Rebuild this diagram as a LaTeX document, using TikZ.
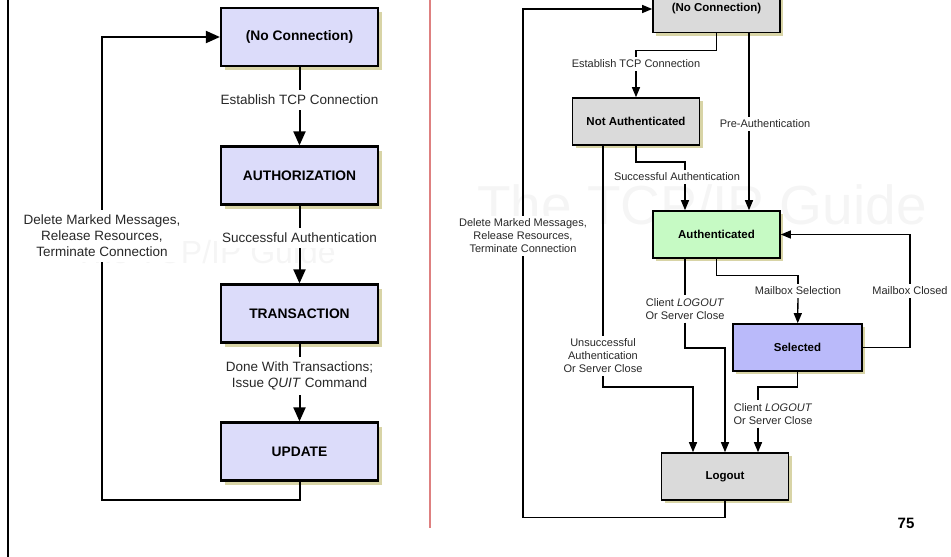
\documentclass[tikz,border=0pt]{standalone}
\usepackage{fontspec}
\setmainfont{Liberation Sans}
\usepackage{tikz}
\usetikzlibrary{
    positioning,
    arrows.meta,
    calc,
    shadows
}
\definecolor{boxLavender}{RGB}{220, 220, 250}
\definecolor{boxGray}{RGB}{218, 218, 218}
\definecolor{boxGreen}{RGB}{198, 250, 196}
\definecolor{boxBlue}{RGB}{186, 186, 250}
\definecolor{shadowOlive}{RGB}{216, 212, 166}
\definecolor{pageRed}{RGB}{222, 128, 128}
\definecolor{markGray}{RGB}{245, 245, 245}
\definecolor{textDark}{RGB}{40, 40, 40}

\begin{document}
\begin{tikzpicture}[x=1pt, y=-1pt,
    stateL/.style={draw, line width=2.2pt, fill=boxLavender, minimum width=157pt, minimum height=58pt,
        font=\fontsize{13.8}{16}\selectfont\bfseries,
        drop shadow={shadow xshift=4pt, shadow yshift=-4pt, fill=shadowOlive, opacity=1}},
    stateR/.style={draw, line width=1.6pt, fill=boxGray, minimum width=127pt, minimum height=47pt,
        font=\fontsize{11.5}{14}\selectfont\bfseries,
        drop shadow={shadow xshift=3pt, shadow yshift=-3pt, fill=shadowOlive, opacity=1}},
    labelL/.style={fill=white, inner xsep=2pt, inner ysep=5pt, align=center, text=textDark,
        font=\fontsize{13.5}{16}\selectfont},
    labelR/.style={fill=white, inner xsep=1pt, inner ysep=3pt, align=center, text=textDark,
        font=\fontsize{11}{13}\selectfont},
    edgeL/.style={line width=2pt, >={Triangle[width=12pt,length=14pt]}},
    edgeR/.style={line width=1.3pt, >={Triangle[width=8pt,length=10pt]}}]
    \useasboundingbox (0,0) rectangle (951,557);

    % watermarks and page frame
    \node[text=markGray, font=\fontsize{32}{32}\selectfont] (markL) at (205,252) {The TCP/IP Guide};
    \node[text=markGray, font=\fontsize{55}{55}\selectfont] (markR) at (702,205) {The TCP/IP Guide};
    \draw[line width=2.5pt] (8,0) -- (8,557);
    \draw[pageRed, line width=1.5pt] (430,0) -- (430,528);

    % left: POP3 states
    \node[stateL] (noconL) at (299.5,37) {(No Connection)};
    \node[stateL] (authL) at (299.5,175.5) {AUTHORIZATION};
    \node[stateL] (transL) at (299.5,313.5) {TRANSACTION};
    \node[stateL] (updL) at (299.5,451.5) {UPDATE};

    \node[labelL] (estL) at (299.5,100) {Establish TCP Connection};
    \node[labelL] (sucL) at (299.5,238) {Successful Authentication};
    \node[labelL] (doneL) at (299.5,376) {Done With Transactions;\\Issue \textit{QUIT} Command};
    \node[labelL] (delL) at (102,236) {Delete Marked Messages,\\Release Resources,\\Terminate Connection};
    \coordinate (turnL) at (102,500);

    \draw[edgeL] (noconL) -- (estL);
    \draw[edgeL, ->] (estL) -- (authL);
    \draw[edgeL] (authL) -- (sucL);
    \draw[edgeL, ->] (sucL) -- (transL);
    \draw[edgeL] (transL) -- (doneL);
    \draw[edgeL, ->] (doneL) -- (updL);
    \draw[edgeL] (updL.south) |- (turnL) -- (delL.south);
    \draw[edgeL, ->] (delL.north) |- (noconL.west);

    % right: IMAP states
    \node[stateR] (noconR) at (716.5,9) {(No Connection)};
    \node[stateR] (notauthR) at (636,121.5) {Not Authenticated};
    \node[stateR, fill=boxGreen] (authR) at (716.5,234.5) {Authenticated};
    \node[stateR, fill=boxBlue, minimum width=129pt] (selR) at (797.5,347.5) {Selected};
    \node[stateR] (logoutR) at (725,476.5) {Logout};

    \node[labelR] (estR) at (636,64) {Establish TCP Connection};
    \node[labelR] (preR) at (765,124) {Pre-Authentication};
    \node[labelR] (sucR) at (677,177) {Successful Authentication};
    \node[labelR] (delR) at (523,236) {Delete Marked Messages,\\Release Resources,\\Terminate Connection};
    \node[labelR] (unsR) at (603,356) {Unsuccessful\\Authentication\\Or Server Close};
    \node[labelR] (cliR) at (685,309) {Client \textit{LOGOUT}\\Or Server Close};
    \node[labelR] (mbselR) at (798,291) {Mailbox Selection};
    \node[labelR] (mbcloR) at (910,291) {Mailbox Closed};
    \node[labelR] (cliSelR) at (773,414) {Client \textit{LOGOUT}\\Or Server Close};

    \coordinate (preX) at (749,0);
    \coordinate (sucX) at (685,162);
    \coordinate (unsTurn) at (693,387);
    \coordinate (cliTurn) at (725,348);
    \coordinate (selTurn) at (758,387);

    \draw[edgeR] (noconR.south) -- ++(0,17) -| (estR.north);
    \draw[edgeR, ->] (estR) -- (notauthR);
    \draw[edgeR] (noconR.south -| preX) -- (preR.north -| preX);
    \draw[edgeR, ->] (preR.south -| preX) -- (authR.north -| preX);
    \draw[edgeR] (notauthR.south) |- (sucX) -- (sucR.north -| sucX);
    \draw[edgeR, ->] (sucR.south -| sucX) -- (authR.north -| sucX);
    \draw[edgeR] (logoutR.south) -- ++(0,17) -| (delR.south);
    \draw[edgeR, ->] (delR.north) |- (noconR.west);
    \draw[edgeR] (notauthR.south -| unsR) -- (unsR.north);
    \draw[edgeR, ->] (unsR.south) |- (unsTurn) -- (logoutR.north -| unsTurn);
    \draw[edgeR] (authR.south -| cliR) -- (cliR.north);
    \draw[edgeR, ->] (cliR.south) |- (cliTurn) -- (logoutR.north);
    \draw[edgeR] (authR.south) -- ++(0,17) -| (mbselR.north);
    \draw[edgeR, ->] (mbselR) -- (selR);
    \draw[edgeR] (selR.east) -| (mbcloR.south);
    \draw[edgeR, ->] (mbcloR.north) |- (authR.east);
    \draw[edgeR] (selR.south) |- (selTurn) -- (cliSelR.north -| selTurn);
    \draw[edgeR, ->] (cliSelR.south -| selTurn) -- (logoutR.north -| selTurn);

    \node[font=\fontsize{15}{15}\selectfont\bfseries] (pageNo) at (906,523) {75};
\end{tikzpicture}
\end{document}
